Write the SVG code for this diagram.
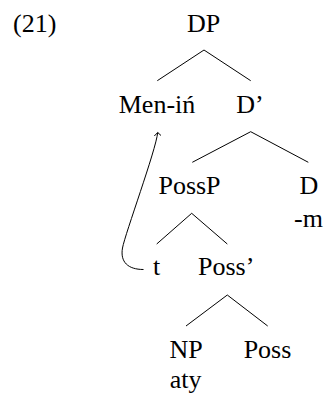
<svg xmlns="http://www.w3.org/2000/svg" width="327" height="394" viewBox="0 0 327 394">
<style>
text{font-family:"Liberation Serif","DejaVu Serif",serif;font-size:26px;fill:#000;text-anchor:middle}
.e{stroke:#000;stroke-width:1;fill:none}
</style>
<rect width="327" height="394" fill="#fff"/>
<text x="13" y="32" style="text-anchor:start">(21)</text>
<g id="DP"><text x="203.5" y="32">DP</text></g>
<g id="Menin"><text x="157" y="112.7">Men-iń</text></g>
<g id="Dbar"><text x="250" y="112.7">D’</text></g>
<g id="PossP"><text x="189.5" y="194">PossP</text></g>
<g id="D"><text x="309" y="194">D</text><text x="308.5" y="226.7">-m</text></g>
<g id="t"><text x="156.5" y="275">t</text></g>
<g id="Possbar"><text x="198" y="275" style="text-anchor:start">Poss’</text></g>
<g id="NP"><text x="186" y="358.3">NP</text><text x="185.7" y="387.5">aty</text></g>
<g id="Poss"><text x="267.5" y="358.3">Poss</text></g>
<g id="connectors" class="e">
<path d="M157.3 80.7 L204 50 L250.7 80.7"/>
<path d="M192.3 162.3 L250.7 131.7 L308.3 162.3"/>
<path d="M156.7 244 L191.7 213.3 L227.3 244"/>
<path d="M186 326 L227.3 295 L267.7 326"/>
<path d="M143.5 269.5 C128 269.5 120 262 122.5 248 C125 234 156 150 157.7 132.5"/>
<path d="M154.3 136 L157.7 132.5 L161 135.5"/>
</g>
</svg>
